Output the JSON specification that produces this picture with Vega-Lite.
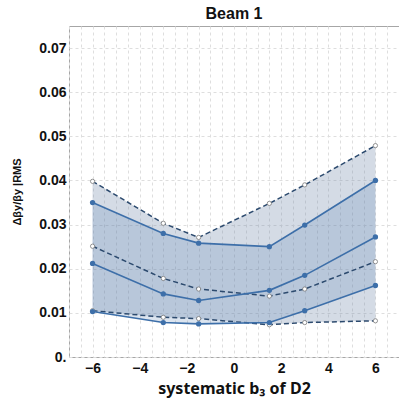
{
  "$schema": "https://vega.github.io/schema/vega-lite/v6.json",
  "width": 330,
  "height": 331,
  "autosize": {"type": "none"},
  "padding": {"left": 69, "top": 26, "right": 0, "bottom": 41},
  "background": "white",
  "config": {
    "font": "Liberation Sans",
    "view": {"stroke": "#a6a6a6", "strokeWidth": 1}
  },
  "title": {"text": "Beam 1", "fontSize": 16, "fontWeight": "bold", "color": "#111111", "offset": 4, "anchor": "middle"},
  "data": {
    "values": [
      {"x": -6, "ud": 0.0398, "us": 0.0350, "md": 0.0251, "ms": 0.0212, "ld": 0.0105, "ls": 0.0103},
      {"x": -3, "ud": 0.0303, "us": 0.0280, "md": 0.0178, "ms": 0.0143, "ld": 0.0090, "ls": 0.0078},
      {"x": -1.5, "ud": 0.0271, "us": 0.0258, "md": 0.0154, "ms": 0.0128, "ld": 0.0087, "ls": 0.0075},
      {"x": 1.5, "ud": 0.0348, "us": 0.0250, "md": 0.0138, "ms": 0.0151, "ld": 0.0073, "ls": 0.0078},
      {"x": 3, "ud": 0.0390, "us": 0.0299, "md": 0.0154, "ms": 0.0185, "ld": 0.0078, "ls": 0.0105},
      {"x": 6, "ud": 0.0479, "us": 0.0400, "md": 0.0216, "ms": 0.0272, "ld": 0.0082, "ls": 0.0162}
    ]
  },
  "encoding": {
    "x": {
      "field": "x", "type": "quantitative",
      "scale": {"domain": [-7, 7], "nice": false, "zero": false},
      "axis": {
        "title": "systematic b₃ of D2",
        "titleFont": "Noto Sans",
        "titleFontSize": 16, "titleFontWeight": "bold", "titleColor": "#111111", "titlePadding": 5,
        "values": [-7, -6.5, -6, -5.5, -5, -4.5, -4, -3.5, -3, -2.5, -2, -1.5, -1, -0.5, 0, 0.5, 1, 1.5, 2, 2.5, 3, 3.5, 4, 4.5, 5, 5.5, 6, 6.5, 7],
        "labelExpr": "datum.value % 2 == 0 && abs(datum.value) < 7 ? format(datum.value, 'd') : ''",
        "labelFontSize": 14, "labelFontWeight": "bold", "labelColor": "#111111", "labelPadding": 4,
        "ticks": false, "domain": false,
        "grid": true, "gridColor": "#dedede", "gridDash": [3, 3], "gridWidth": 1
      }
    }
  },
  "layer": [
    {
      "mark": {"type": "area", "color": "#7088a8", "opacity": 0.3},
      "encoding": {
        "y": {
          "field": "ud", "type": "quantitative",
          "scale": {"domain": [0, 0.075], "nice": false},
          "axis": {
            "title": "Δβy/βy |RMS",
            "titleFontSize": 11, "titleFontWeight": "bold", "titleColor": "#111111", "titlePadding": 16,
            "values": [0, 0.0025, 0.005, 0.0075, 0.01, 0.0125, 0.015, 0.0175, 0.02, 0.0225, 0.025, 0.0275, 0.03, 0.0325, 0.035, 0.0375, 0.04, 0.0425, 0.045, 0.0475, 0.05, 0.0525, 0.055, 0.0575, 0.06, 0.0625, 0.065, 0.0675, 0.07, 0.0725, 0.075],
            "labelExpr": "abs(datum.value * 100 - round(datum.value * 100)) < 0.000001 && datum.value < 0.0749 ? (datum.value == 0 ? '0.' : format(datum.value, '.2f')) : ''",
            "labelFontSize": 14, "labelFontWeight": "bold", "labelColor": "#111111", "labelPadding": 3,
            "ticks": false, "domain": false,
            "grid": true, "gridColor": "#dedede", "gridDash": [3, 3], "gridWidth": 1
          }
        },
        "y2": {"field": "ld"}
      }
    },
    {
      "mark": {"type": "area", "color": "#4a78ad", "opacity": 0.2},
      "encoding": {
        "y": {"field": "us", "type": "quantitative"},
        "y2": {"field": "ls"}
      }
    },
    {
      "transform": [{"fold": ["ud", "md", "ld"], "as": ["s", "v"]}],
      "mark": {"type": "line", "color": "#2c4a6e", "strokeWidth": 1.5, "strokeDash": [5, 3]},
      "encoding": {
        "y": {"field": "v", "type": "quantitative"},
        "detail": {"field": "s"}
      }
    },
    {
      "transform": [{"fold": ["ud", "md", "ld"], "as": ["s", "v"]}],
      "mark": {"type": "point", "shape": "circle", "filled": false, "fill": "white", "fillOpacity": 1, "stroke": "#7a7a7a", "strokeWidth": 0.8, "size": 18, "opacity": 1},
      "encoding": {
        "y": {"field": "v", "type": "quantitative"},
        "detail": {"field": "s"}
      }
    },
    {
      "transform": [{"fold": ["us", "ms", "ls"], "as": ["s", "v"]}],
      "mark": {"type": "line", "color": "#3d6fa9", "strokeWidth": 1.6},
      "encoding": {
        "y": {"field": "v", "type": "quantitative"},
        "detail": {"field": "s"}
      }
    },
    {
      "transform": [{"fold": ["us", "ms", "ls"], "as": ["s", "v"]}],
      "mark": {"type": "circle", "color": "#3d6fa9", "size": 28, "opacity": 1},
      "encoding": {
        "y": {"field": "v", "type": "quantitative"},
        "detail": {"field": "s"}
      }
    }
  ]
}
